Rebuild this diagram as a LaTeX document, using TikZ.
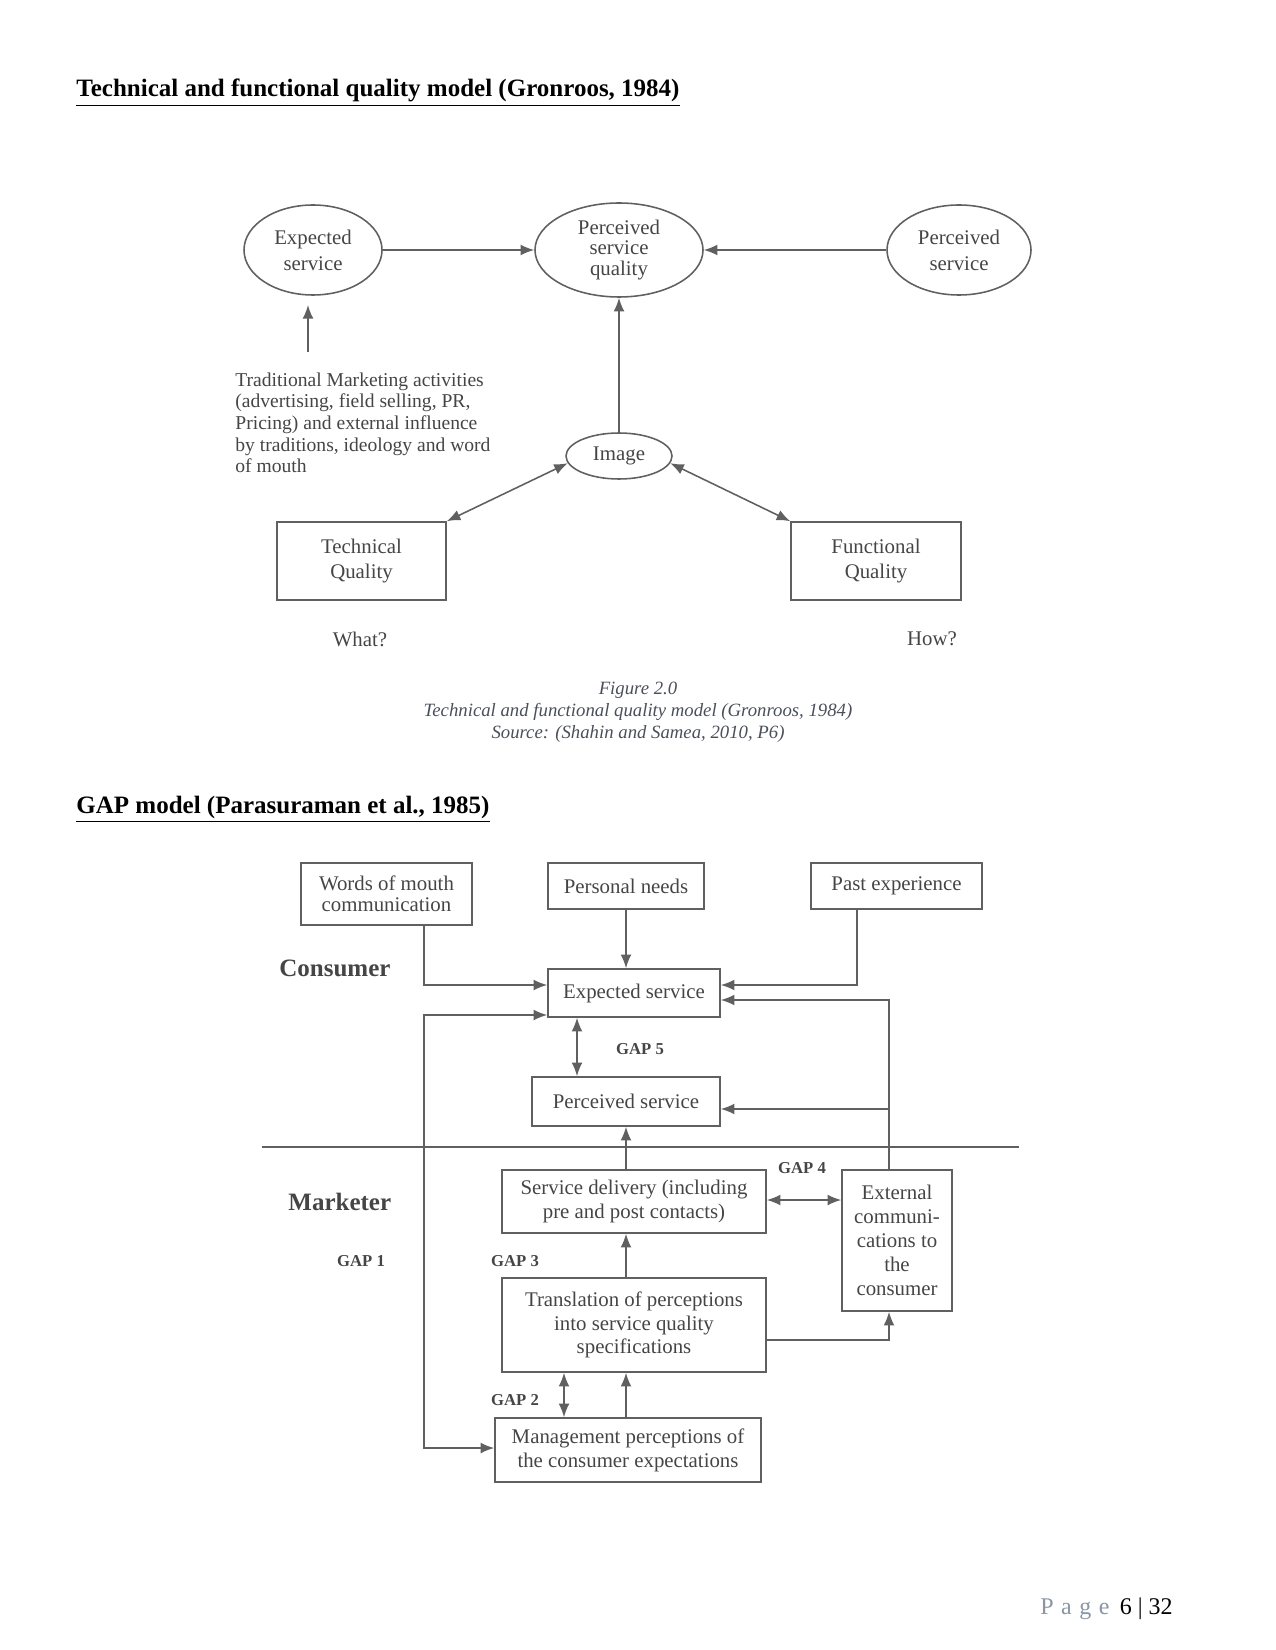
\documentclass[tikz,border=0pt]{standalone}
\usepackage{fontspec}
\setmainfont{Liberation Serif}
\usetikzlibrary{shapes.geometric,arrows.meta,calc}
\definecolor{ink}{HTML}{454545}
\definecolor{ln}{HTML}{606060}
\definecolor{capc}{HTML}{4A4F5A}
\definecolor{pg}{HTML}{8A95A5}
\begin{document}
\begin{tikzpicture}[x=0.48pt,y=-0.48pt,
  ell/.style={ellipse, draw=ln, line width=0.75pt, inner sep=0pt, align=center, text=ink},
  bx/.style={rectangle, draw=ln, line width=0.75pt, inner sep=0pt, align=center, text=ink},
  arr/.style={draw=ln, line width=0.75pt, -{Latex[length=6.5pt,width=5.2pt]}},
  darr/.style={draw=ln, line width=0.75pt, {Latex[length=6.5pt,width=5.2pt]}-{Latex[length=6.5pt,width=5.2pt]}},
  lbl/.style={text=ink, inner sep=0pt},
  gap/.style={text=ink, inner sep=0pt, font=\bfseries\fontsize{8}{9}\selectfont},
  ]
\path[use as bounding box] (0,0) rectangle (1275,1650);

% ---------- Titles ----------
\node[anchor=base west, inner sep=0pt, font=\bfseries\fontsize{12}{14}\selectfont] (t1) at (76,97)
  {\underline{Technical and functional quality model (Gronroos, 1984)}};
\node[anchor=base west, inner sep=0pt, font=\bfseries\fontsize{12}{14}\selectfont] (t2) at (76,813)
  {\underline{GAP model (Parasuraman et al., 1985)}};

% ---------- Diagram 1 ----------
\node[ell, minimum width=138*0.48pt, minimum height=90*0.48pt, font=\fontsize{10}{12.5}\selectfont] (es) at (313,250) {Expected\\service};
\node[ell, minimum width=168*0.48pt, minimum height=94*0.48pt, font=\fontsize{10}{9.8}\selectfont] (psq) at (619,250) {Perceived\\service\\quality};
\node[ell, minimum width=144*0.48pt, minimum height=90*0.48pt, font=\fontsize{10}{12.5}\selectfont] (ps) at (959,250) {Perceived\\service};
\node[ell, minimum width=106*0.48pt, minimum height=46*0.48pt, font=\fontsize{10}{12}\selectfont] (img) at (619,456) {Image};
\node[bx, minimum width=169*0.48pt, minimum height=78*0.48pt, font=\fontsize{10}{12.2}\selectfont] (tq) at (361.5,561) {Technical\\Quality};
\node[bx, minimum width=170*0.48pt, minimum height=78*0.48pt, font=\fontsize{10}{12.2}\selectfont] (fq) at (876,561) {Functional\\Quality};

\node[lbl, anchor=north west, align=left, font=\fontsize{9.4}{10.4}\selectfont] (trad) at (235,372)
  {Traditional Marketing activities\\(advertising, field selling, PR,\\Pricing) and external influence\\by traditions, ideology and word\\of mouth};
\node[lbl, font=\fontsize{10}{12}\selectfont] (what) at (360,639) {What?};
\node[lbl, font=\fontsize{10}{12}\selectfont] (how) at (932,639) {How?};

\coordinate (tmA) at (308,352);
\coordinate (tmB) at (308,305);
\draw[arr] (es) -- (psq);
\draw[arr] (ps) -- (psq);
\draw[arr] (tmA) -- (tmB);
\draw[arr] (img) -- (psq);
\draw[darr] (img.188) -- (tq.north east);
\draw[darr] (img.352) -- (fq.north west);

% ---------- Caption ----------
\node[anchor=north, align=center, inner sep=0pt, text=capc, font=\itshape\fontsize{9}{10.4}\selectfont] (capt) at (638,682)
  {Figure 2.0\\Technical and functional quality model (Gronroos, 1984)\\Source: (Shahin and Samea, 2010, P6)};

% ---------- Diagram 2 (GAP model) ----------
\node[bx, minimum width=171*0.48pt, minimum height=62*0.48pt, font=\fontsize{10}{10.2}\selectfont] (wom) at (386.5,894) {Words of mouth\\communication};
\node[bx, minimum width=156*0.48pt, minimum height=46*0.48pt, font=\fontsize{10}{12}\selectfont] (pn) at (626,886) {Personal needs};
\node[bx, minimum width=171*0.48pt, minimum height=46*0.48pt, font=\fontsize{10}{12}\selectfont] (pe) at (896.5,886) {Past experience};
\node[bx, minimum width=172*0.48pt, minimum height=48*0.48pt, font=\fontsize{10}{12}\selectfont] (exp) at (634,993) {Expected service};
\node[bx, minimum width=188*0.48pt, minimum height=49*0.48pt, font=\fontsize{10}{12}\selectfont] (per) at (626,1101.5) {Perceived service};
\node[bx, minimum width=264*0.48pt, minimum height=63*0.48pt, font=\fontsize{10}{11.6}\selectfont] (sd) at (634,1201.5) {Service delivery (including\\pre and post contacts)};
\node[bx, minimum width=110*0.48pt, minimum height=141*0.48pt, font=\fontsize{10}{11.6}\selectfont] (ext) at (897,1240.5) {External\\communi-\\cations to\\the\\consumer};
\node[bx, minimum width=264*0.48pt, minimum height=94*0.48pt, font=\fontsize{10}{11.4}\selectfont] (tr) at (634,1325) {Translation of perceptions\\into service quality\\specifications};
\node[bx, minimum width=266*0.48pt, minimum height=64*0.48pt, font=\fontsize{10}{11.6}\selectfont] (mg) at (628,1450) {Management perceptions of\\the consumer expectations};

\node[lbl, anchor=west, font=\bfseries\fontsize{12}{14}\selectfont] (cons) at (279,968) {Consumer};
\node[lbl, anchor=west, font=\bfseries\fontsize{12}{14}\selectfont] (mark) at (288,1202) {Marketer};
\node[gap] (g1) at (361,1261) {GAP 1};
\node[gap] (g2) at (515,1400) {GAP 2};
\node[gap] (g3) at (515,1261) {GAP 3};
\node[gap] (g4) at (802,1168) {GAP 4};
\node[gap] (g5) at (640,1049) {GAP 5};

\coordinate (hl1) at (262,1147);
\coordinate (hl2) at (1019,1147);
\draw[ln, line width=0.75pt] (hl1) -- (hl2);

\coordinate (xL) at (424,0);
\coordinate (xR) at (889,0);
\coordinate (xPE) at (857,0);
\coordinate (xG5) at (577,0);
\coordinate (xG2) at (564,0);
\coordinate (xC) at (626,0);
\coordinate (yA) at (0,985);
\coordinate (yB) at (0,1000);
\coordinate (yC) at (0,1015);
\coordinate (yD) at (0,1109);
\coordinate (yE) at (0,1200);
\coordinate (yF) at (0,1340);
\coordinate (yG) at (0,1448);
\coordinate (jR) at (xR |- yD);

\draw[arr] (wom.south -| xL) |- (exp.west |- yA);
\draw[arr] (pn.south) -- (pn.south |- exp.north);
\draw[arr] (pe.south -| xPE) |- (exp.east |- yA);
\draw[arr] (ext.north -| xR) |- (exp.east |- yB);
\draw[arr] (jR) -- (per.east |- yD);
\draw[darr] (exp.west |- yC) -| (xL |- yG) -- (mg.west |- yG);
\draw[darr] (exp.south -| xG5) -- (per.north -| xG5);
\draw[arr] (sd.north -| xC) -- (per.south -| xC);
\draw[darr] (sd.east |- yE) -- (ext.west |- yE);
\draw[arr] (tr.north -| xC) -- (sd.south -| xC);
\draw[arr] (tr.east |- yF) -| (ext.south -| xR);
\draw[darr] (mg.north -| xG2) -- (tr.south -| xG2);
\draw[arr] (mg.north -| xC) -- (tr.south -| xC);

% ---------- Page number ----------
\node[anchor=base east, inner sep=0pt, font=\fontsize{11.5}{13}\selectfont] (pgn) at (1173,1614)
  {\textcolor{pg}{P\hspace{3.6pt}a\hspace{3.6pt}g\hspace{3.6pt}e}\hspace{5pt}6 | 32};
\end{tikzpicture}
\end{document}
